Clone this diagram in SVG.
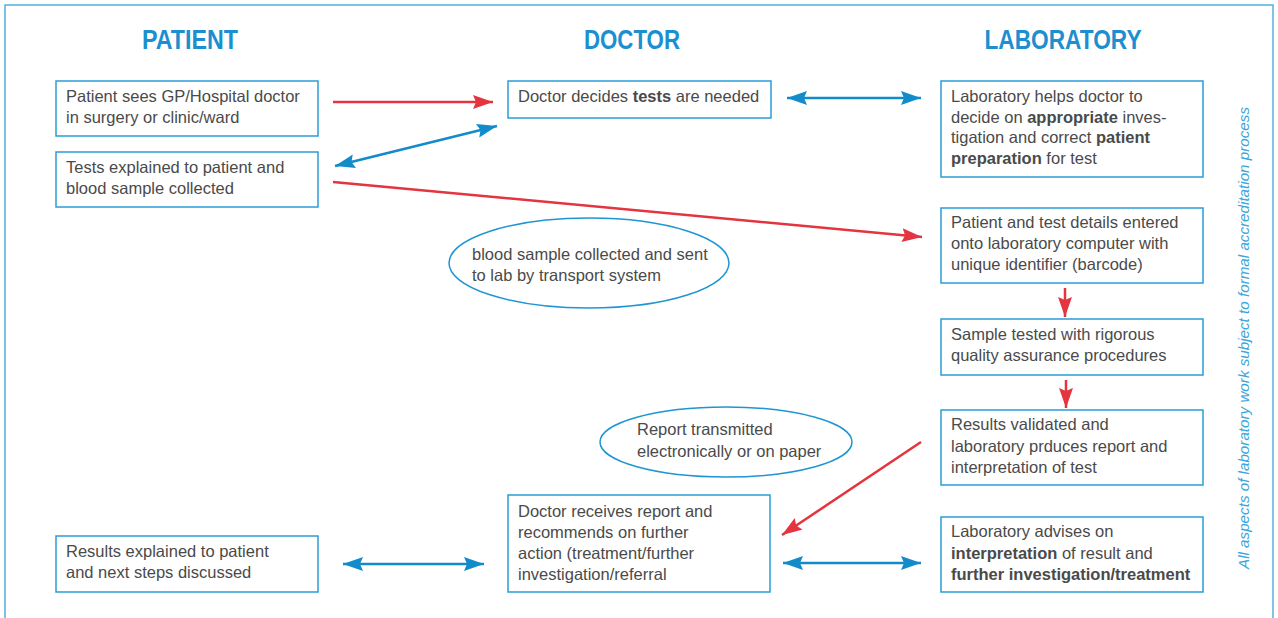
<svg xmlns="http://www.w3.org/2000/svg" width="1278" height="618" viewBox="0 0 1278 618">
<style>
.box{fill:#fff;stroke:#2a9dd8;stroke-width:1.5}
.ell{fill:none;stroke:#1f95d3;stroke-width:1.5}
.t{font-family:"Liberation Sans",Arial,sans-serif;font-size:16.5px;fill:#4a4a4a}
.b{font-weight:bold}
.h{font-family:"Liberation Sans",Arial,sans-serif;font-size:27px;font-weight:bold;fill:#1b8fcf;text-anchor:middle}
.red{stroke:#e3343f;stroke-width:2.5;fill:none;marker-end:url(#ar)}
.blue{stroke:#128bcb;stroke-width:2.5;fill:none;marker-end:url(#ab);marker-start:url(#ab)}
.side{font-family:"Liberation Sans",Arial,sans-serif;font-size:15px;font-style:italic;fill:#3aa6dc}
</style>
<defs>
<marker id="ar" markerUnits="userSpaceOnUse" markerWidth="20" markerHeight="14" refX="20" refY="7" orient="auto-start-reverse"><path d="M0,0 L20,7 L0,14 L3,7 z" fill="#e3343f"/></marker>
<marker id="ab" markerUnits="userSpaceOnUse" markerWidth="20" markerHeight="14" refX="20" refY="7" orient="auto-start-reverse"><path d="M0,0 L20,7 L0,14 L3,7 z" fill="#128bcb"/></marker>
</defs>
<path d="M5,618 L5,5 L1273,5 L1273,618" fill="none" stroke="#52b0e0" stroke-width="1.5"/>
<g id="headers">
<text class="h" x="190" y="49" textLength="96" lengthAdjust="spacingAndGlyphs">PATIENT</text>
<text class="h" x="632" y="49" textLength="96" lengthAdjust="spacingAndGlyphs">DOCTOR</text>
<text class="h" x="1063" y="49" textLength="157" lengthAdjust="spacingAndGlyphs">LABORATORY</text>
</g>
<g id="connectors">
<line class="red" x1="333" y1="102" x2="493" y2="102"/>
<line class="blue" x1="335" y1="166" x2="497" y2="126"/>
<line class="red" x1="333" y1="182" x2="922" y2="237"/>
<line class="blue" x1="787" y1="98" x2="921" y2="98"/>
<line class="red" x1="1065" y1="288" x2="1065" y2="317"/>
<line class="red" x1="1066" y1="380" x2="1066" y2="408"/>
<line class="red" x1="921" y1="442" x2="782" y2="535"/>
<line class="blue" x1="783" y1="563" x2="921" y2="563"/>
<line class="blue" x1="343" y1="564" x2="484" y2="564"/>
</g>
<g id="p1"><rect class="box" x="56" y="81" width="262" height="55"/>
<text class="t" x="66" y="102">Patient sees GP/Hospital doctor</text>
<text class="t" x="66" y="123">in surgery or clinic/ward</text></g>
<g id="p2"><rect class="box" x="56" y="152" width="262" height="55"/>
<text class="t" x="66" y="173">Tests explained to patient and</text>
<text class="t" x="66" y="194">blood sample collected</text></g>
<g id="p3"><rect class="box" x="56" y="536" width="262" height="56"/>
<text class="t" x="66" y="557">Results explained to patient</text>
<text class="t" x="66" y="578">and next steps discussed</text></g>
<g id="d1"><rect class="box" x="508" y="81" width="263" height="37"/>
<text class="t" x="518" y="102">Doctor decides <tspan class="b">tests</tspan> are needed</text></g>
<g id="d2"><rect class="box" x="508" y="495" width="262" height="97"/>
<text class="t" x="518" y="517">Doctor receives report and</text>
<text class="t" x="518" y="538">recommends on further</text>
<text class="t" x="518" y="559">action (treatment/further</text>
<text class="t" x="518" y="580">investigation/referral</text></g>
<g id="l1"><rect class="box" x="941" y="81" width="262" height="96"/>
<text class="t" x="951" y="102">Laboratory helps doctor to</text>
<text class="t" x="951" y="123">decide on <tspan class="b">appropriate</tspan> inves-</text>
<text class="t" x="951" y="143">tigation and correct <tspan class="b">patient</tspan></text>
<text class="t" x="951" y="164"><tspan class="b">preparation</tspan> for test</text></g>
<g id="l2"><rect class="box" x="941" y="208" width="262" height="75"/>
<text class="t" x="951" y="228">Patient and test details entered</text>
<text class="t" x="951" y="249">onto laboratory computer with</text>
<text class="t" x="951" y="270">unique identifier (barcode)</text></g>
<g id="l3"><rect class="box" x="941" y="319" width="262" height="56"/>
<text class="t" x="951" y="340">Sample tested with rigorous</text>
<text class="t" x="951" y="361">quality assurance procedures</text></g>
<g id="l4"><rect class="box" x="941" y="410" width="262" height="75"/>
<text class="t" x="951" y="430">Results validated and</text>
<text class="t" x="951" y="452">laboratory prduces report and</text>
<text class="t" x="951" y="473">interpretation of test</text></g>
<g id="l5"><rect class="box" x="941" y="517" width="262" height="75"/>
<text class="t" x="951" y="537">Laboratory advises on</text>
<text class="t" x="951" y="559"><tspan class="b">interpretation</tspan> of result and</text>
<text class="t" x="951" y="580"><tspan class="b">further investigation/treatment</tspan></text></g>
<g id="e1"><ellipse class="ell" cx="589" cy="263" rx="140" ry="45"/>
<text class="t" x="472" y="260">blood sample collected and sent</text>
<text class="t" x="472" y="281">to lab by transport system</text></g>
<g id="e2"><ellipse class="ell" cx="726" cy="442" rx="126" ry="35"/>
<text class="t" x="637" y="435">Report transmitted</text>
<text class="t" x="637" y="457">electronically or on paper</text></g>
<g id="side"><text class="side" transform="translate(1249,569) rotate(-90)" x="0" y="0" textLength="462" lengthAdjust="spacingAndGlyphs">All aspects of laboratory work subject to formal accreditation process</text></g>
</svg>
